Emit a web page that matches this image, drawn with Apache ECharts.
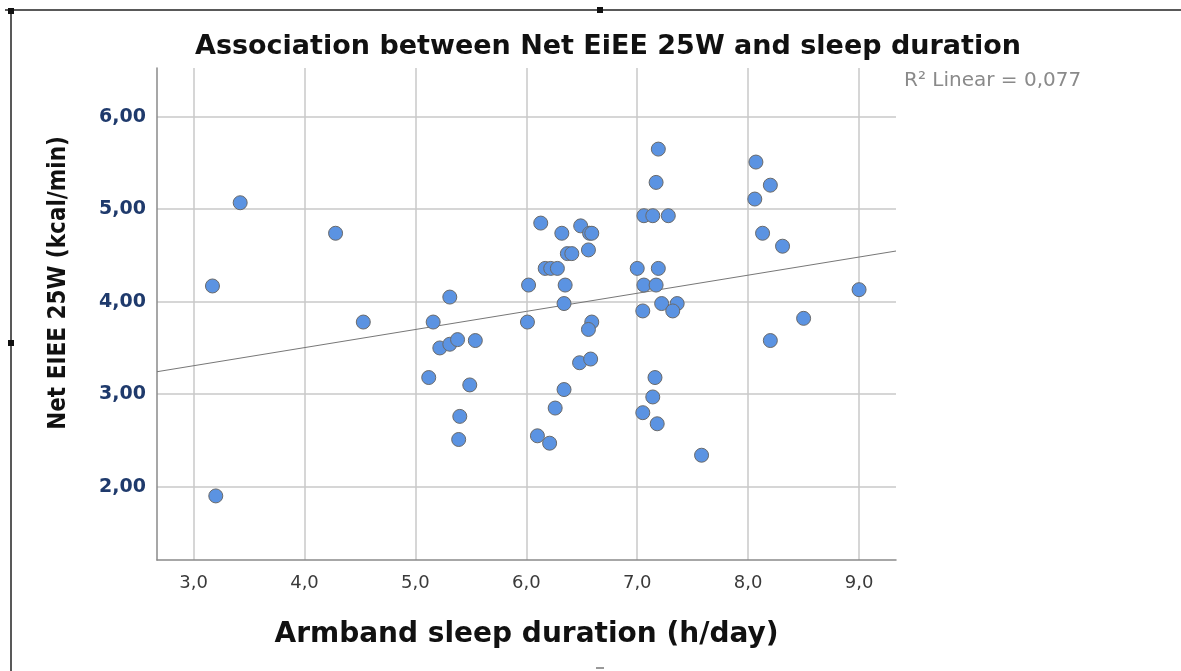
<!DOCTYPE html>
<html>
<head>
    <meta charset="utf-8">
    <title>ECharts</title>
    <script src="https://cdn.jsdelivr.net/npm/echarts@6/dist/echarts.min.js"></script>
</head>
<body style="margin:0;background:#fff;">
<div id="main" style="width: 1181px;height:671px;"></div>
<script type="text/javascript">
    // sleep duration (h/day) and net EiEE 25W (kcal/min)
    var sleepHours = [3.17, 3.42, 3.20, 4.28, 4.53, 5.31, 5.16, 5.22, 5.31, 5.38, 5.54, 5.12, 5.49, 5.40, 5.39,
        6.02, 6.01, 6.13, 6.17, 6.22, 6.28, 6.32, 6.37, 6.41, 6.35, 6.34, 6.34, 6.26, 6.10, 6.21,
        6.49, 6.57, 6.59, 6.56, 6.59, 6.56, 6.48, 6.58,
        7.00, 7.06, 7.14, 7.28, 7.19, 7.17, 7.19, 7.06, 7.17, 7.22, 7.36, 7.05, 7.32, 7.16, 7.14, 7.05, 7.18, 7.58,
        8.07, 8.20, 8.06, 8.13, 8.31, 8.50, 8.20, 9.00];
    var netEiee = [4.17, 5.07, 1.90, 4.74, 3.78, 4.05, 3.78, 3.50, 3.54, 3.59, 3.58, 3.18, 3.10, 2.76, 2.51,
        4.18, 3.78, 4.85, 4.36, 4.36, 4.36, 4.74, 4.52, 4.52, 4.18, 3.98, 3.05, 2.85, 2.55, 2.47,
        4.82, 4.74, 4.74, 4.56, 3.78, 3.70, 3.34, 3.38,
        4.36, 4.93, 4.93, 4.93, 5.65, 5.29, 4.36, 4.18, 4.18, 3.98, 3.98, 3.90, 3.90, 3.18, 2.97, 2.80, 2.68, 2.34,
        5.51, 5.26, 5.11, 4.74, 4.60, 3.82, 3.58, 4.13];
    // fit line end points as drawn
    var fitX = [2.67, 9.333];
    var fitY = [3.243, 4.548];
    var xTicks = [3, 4, 5, 6, 7, 8, 9];
    var yTicks = [2, 3, 4, 5, 6];

    var points = sleepHours.map(function (h, i) { return [h, netEiee[i]]; });
    var fitLine = fitX.map(function (x, i) { return [x, fitY[i]]; });

    var myChart = echarts.init(document.getElementById('main'));
    var gridColor = '#c8c8c8';
    var option = {
        backgroundColor: '#fff',
        animation: false,
        title: {
            text: 'Association between Net EiEE 25W and sleep duration',
            left: 190,
            top: 28,
            textStyle: {
                fontFamily: 'DejaVu Sans',
                fontWeight: 'bold',
                fontSize: 27,
                color: '#111'
            }
        },
        grid: {
            left: 157,
            right: 285,
            top: 68,
            bottom: 111
        },
        xAxis: {
            type: 'value',
            min: 2.67,
            max: 9.333,
            name: 'Armband sleep duration (h/day)',
            nameLocation: 'middle',
            nameGap: 61,
            nameTextStyle: {
                fontFamily: 'DejaVu Sans',
                fontWeight: 'bold',
                fontSize: 28,
                color: '#111'
            },
            axisLine: { lineStyle: { color: '#8a8a8a', width: 1.5 } },
            axisTick: { show: false, customValues: xTicks },
            splitLine: { show: true, lineStyle: { color: gridColor, width: 1.5 } },
            axisLabel: {
                customValues: xTicks,
                margin: 14,
                fontFamily: 'DejaVu Sans',
                fontSize: 18,
                color: '#3a3a3a',
                formatter: function (v) { return v.toFixed(1).replace('.', ','); }
            }
        },
        yAxis: {
            type: 'value',
            min: 1.207,
            max: 6.527,
            name: 'Net EIEE 25W (kcal/min)',
            nameLocation: 'middle',
            nameGap: 86,
            nameTextStyle: {
                fontFamily: 'DejaVu Sans Condensed',
                fontWeight: 'bold',
                fontSize: 24,
                color: '#111',
                padding: [0, 0, 0, 62]
            },
            axisLine: { show: true, lineStyle: { color: '#8a8a8a', width: 1.5 } },
            axisTick: { show: false, customValues: yTicks },
            splitLine: { show: true, lineStyle: { color: gridColor, width: 1.5 } },
            axisLabel: {
                customValues: yTicks,
                margin: 11,
                fontFamily: 'DejaVu Sans',
                fontWeight: 'bold',
                fontSize: 19,
                color: '#1f3a6c',
                formatter: function (v) { return v.toFixed(2).replace('.', ','); }
            }
        },
        graphic: [
            { type: 'line', shape: { x1: 5, y1: 10, x2: 1181, y2: 10 }, style: { stroke: '#222', lineWidth: 1.5 } },
            { type: 'line', shape: { x1: 11, y1: 10, x2: 11, y2: 671 }, style: { stroke: '#222', lineWidth: 1.5 } },
            { type: 'rect', shape: { x: 8, y: 8, width: 6, height: 6 }, style: { fill: '#111' } },
            { type: 'rect', shape: { x: 597, y: 7, width: 6, height: 6 }, style: { fill: '#111' } },
            { type: 'rect', shape: { x: 8, y: 340, width: 6, height: 6 }, style: { fill: '#111' } },
            { type: 'rect', shape: { x: 596, y: 667, width: 8, height: 2 }, style: { fill: '#999' } },
            {
                type: 'text',
                left: 904,
                top: 71,
                style: {
                    text: 'R² Linear = 0,077',
                    font: '20px "DejaVu Sans"',
                    fill: '#8a8a8a'
                }
            }
        ],
        series: [
            {
                type: 'line',
                data: fitLine,
                symbol: 'none',
                z: 1,
                lineStyle: { color: '#777', width: 1 }
            },
            {
                type: 'scatter',
                data: points,
                symbolSize: 14,
                z: 3,
                itemStyle: {
                    color: '#5b93e2',
                    borderColor: '#6a6a6a',
                    borderWidth: 1,
                    opacity: 1
                }
            }
        ]
    };
    myChart.setOption(option);
</script>
</body>
</html>
